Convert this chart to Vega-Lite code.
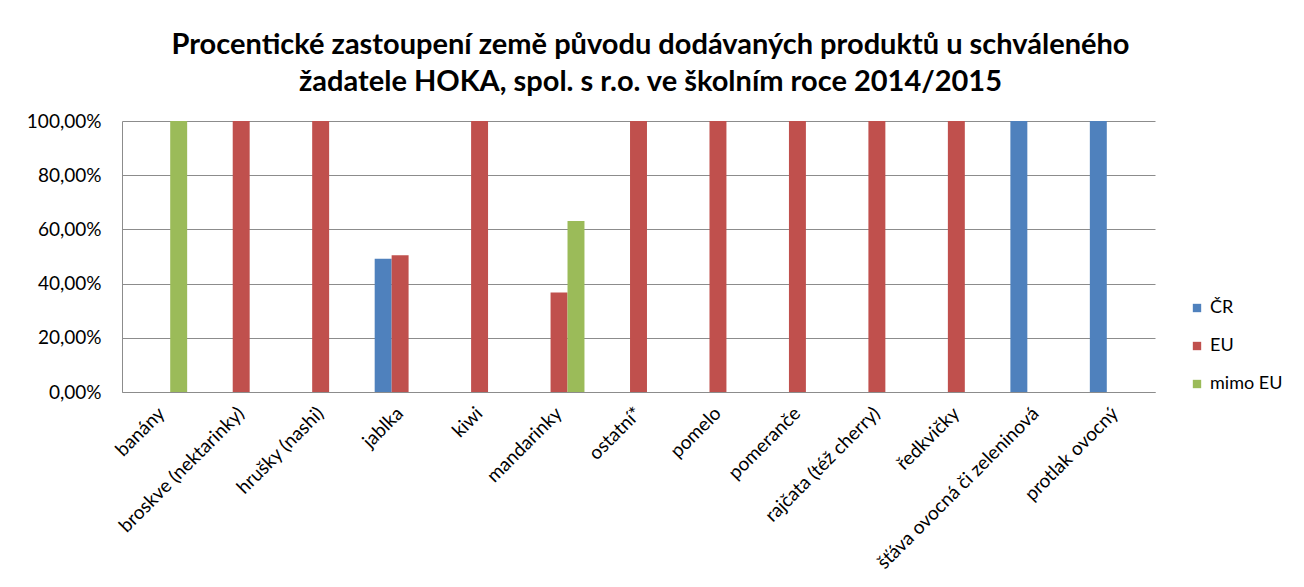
{
  "$schema": "https://vega.github.io/schema/vega-lite/v6.json",
  "autosize": "none",
  "width": 1033,
  "height": 271,
  "padding": {"left": 122, "top": 121, "right": 149, "bottom": 195},
  "background": "white",
  "config": {
    "locale": {"number": {"decimal": ",", "thousands": " ", "grouping": [3], "currency": ["", " Kč"]}},
    "font": "Lato",
    "view": {"stroke": null}
  },
  "title": {
    "text": ["Procentické zastoupení země původu dodávaných produktů u schváleného", "žadatele HOKA, spol. s r.o. ve školním roce 2014/2015"],
    "font": "Lato",
    "fontSize": 29,
    "fontWeight": "bold",
    "color": "#000000",
    "lineHeight": 37,
    "anchor": "middle",
    "dx": 12,
    "offset": 15
  },
  "data": {
    "values": [
      {"produkt": "banány", "puvod": "mimo EU", "podil": 1.0},
      {"produkt": "broskve (nektarinky)", "puvod": "EU", "podil": 1.0},
      {"produkt": "hrušky (nashi)", "puvod": "EU", "podil": 1.0},
      {"produkt": "jablka", "puvod": "ČR", "podil": 0.492},
      {"produkt": "jablka", "puvod": "EU", "podil": 0.505},
      {"produkt": "kiwi", "puvod": "EU", "podil": 1.0},
      {"produkt": "mandarinky", "puvod": "EU", "podil": 0.367},
      {"produkt": "mandarinky", "puvod": "mimo EU", "podil": 0.631},
      {"produkt": "ostatní*", "puvod": "EU", "podil": 1.0},
      {"produkt": "pomelo", "puvod": "EU", "podil": 1.0},
      {"produkt": "pomeranče", "puvod": "EU", "podil": 1.0},
      {"produkt": "rajčata (též cherry)", "puvod": "EU", "podil": 1.0},
      {"produkt": "ředkvičky", "puvod": "EU", "podil": 1.0},
      {"produkt": "šťáva ovocná či zeleninová", "puvod": "ČR", "podil": 1.0},
      {"produkt": "protlak ovocný", "puvod": "ČR", "podil": 1.0}
    ]
  },
  "mark": {"type": "bar"},
  "encoding": {
    "x": {
      "field": "produkt",
      "type": "nominal",
      "sort": null,
      "scale": {"paddingInner": 0.36, "paddingOuter": 0.18},
      "axis": {
        "title": null,
        "labelAngle": -45,
        "labelAlign": "right",
        "labelBaseline": "middle",
        "labelFontSize": 19,
        "labelColor": "#000000",
        "labelPadding": 18,
        "ticks": false,
        "domainColor": "#8c8c8c",
        "labelLimit": 400
      }
    },
    "xOffset": {"field": "puvod", "type": "nominal", "scale": {"domain": ["ČR", "EU", "mimo EU"], "paddingInner": 0, "paddingOuter": 0}},
    "y": {
      "field": "podil",
      "type": "quantitative",
      "scale": {"domain": [0, 1], "nice": false},
      "axis": {
        "title": null,
        "format": ".2%",
        "values": [0, 0.2, 0.4, 0.6, 0.8, 1.0],
        "labelFontSize": 19,
        "labelColor": "#000000",
        "labelPadding": 21,
        "ticks": false,
        "domainColor": "#8c8c8c",
        "gridColor": "#8c8c8c",
        "gridOpacity": 1
      }
    },
    "color": {
      "field": "puvod",
      "type": "nominal",
      "scale": {"domain": ["ČR", "EU", "mimo EU"], "range": ["#4F81BD", "#C0504D", "#9BBB59"]},
      "legend": {
        "title": null,
        "orient": "none",
        "legendX": 1066,
        "legendY": 178,
        "symbolType": "square",
        "symbolSize": 70,
        "symbolStrokeWidth": 0,
        "labelFontSize": 18,
        "labelColor": "#000000",
        "rowPadding": 20,
        "labelOffset": 4
      }
    }
  }
}
